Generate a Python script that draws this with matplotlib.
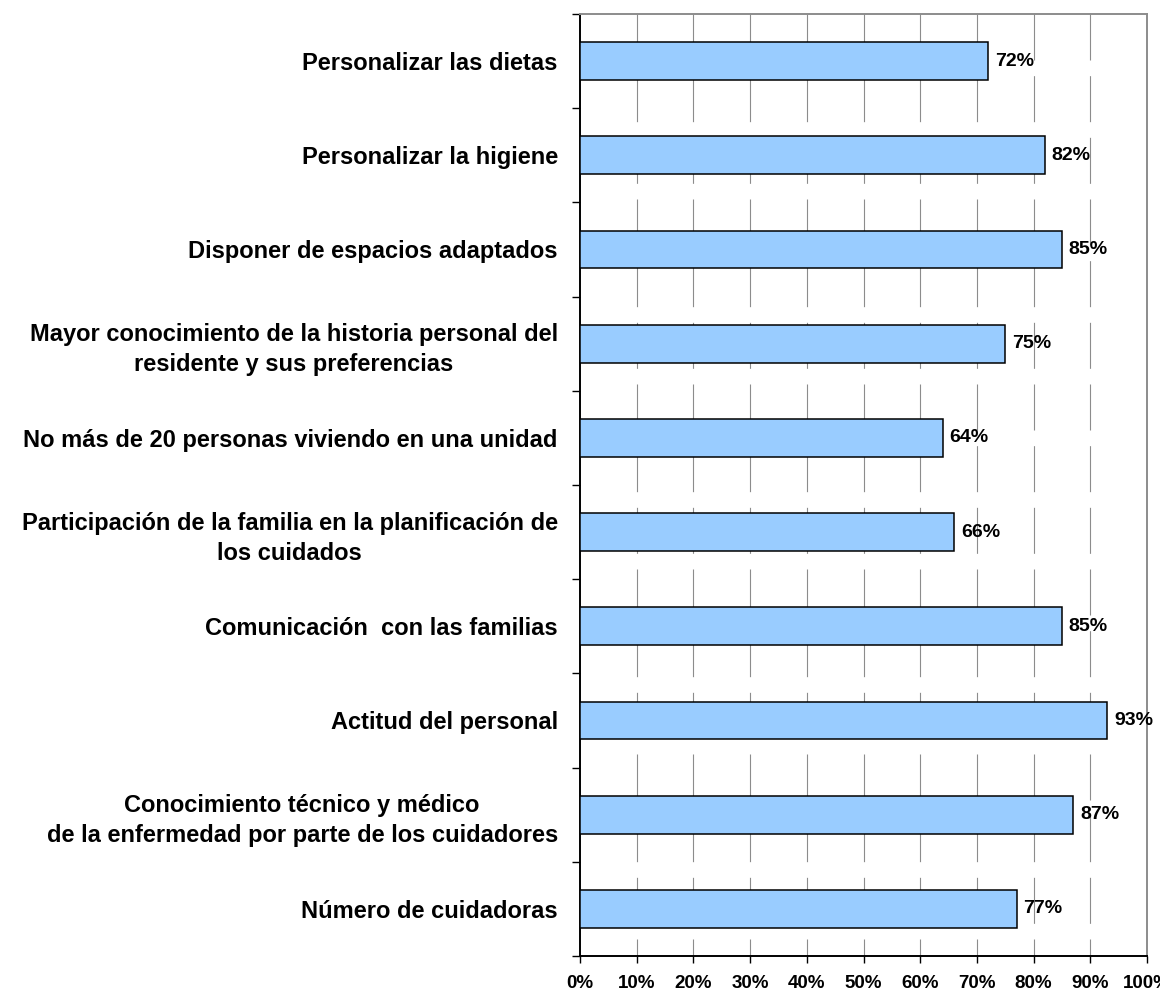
import matplotlib
matplotlib.use("Agg")
import matplotlib.pyplot as plt
import numpy as np

categories = [
    "Personalizar las dietas",
    "Personalizar la higiene",
    "Disponer de espacios adaptados",
    "Mayor conocimiento de la historia personal del\nresidente y sus preferencias",
    "No más de 20 personas viviendo en una unidad",
    "Participación de la familia en la planificación de\nlos cuidados",
    "Comunicación  con las familias",
    "Actitud del personal",
    "Conocimiento técnico y médico\nde la enfermedad por parte de los cuidadores",
    "Número de cuidadoras",
]
values = [72, 82, 85, 75, 64, 66, 85, 93, 87, 77]
xticks = [0, 10, 20, 30, 40, 50, 60, 70, 80, 90, 100]
xtick_labels = ["0%", "10%", "20%", "30%", "40%", "50%", "60%", "70%", "80%", "90%", "100%"]

plt.rcParams['font.family'] = ['Liberation Sans', 'DejaVu Sans']

fig = plt.figure(figsize=(11.6, 9.92), dpi=100)
ax = fig.add_axes([0.5, 0.0363, 0.4888, 0.9496])

n = len(categories)
pos = np.arange(n)
ax.barh(pos, values, height=0.4, color='#99CCFF', edgecolor='black', linewidth=1.1, zorder=3)

for p, v in zip(pos, values):
    ax.text(v + 1.2, p, f"{v}%", va='center', ha='left', fontsize=14,
            fontweight='bold', zorder=4)

for x in xticks[1:-1]:
    ax.axvline(x, ymin=1, ymax=0, color='#8c8c8c', lw=0.8,
               linestyle=(0, (41.4, 14.1)), zorder=1)

ax.set_xlim(0, 100)
ax.set_ylim(n - 0.5, -0.5)

ax.set_xticks(xticks)
ax.set_xticklabels(xtick_labels, fontsize=13.5, fontweight='bold')
ax.tick_params(axis='x', length=5, width=1, pad=9, color='black')

ax.set_yticks(pos)
ax.set_yticklabels(categories, fontsize=17, fontweight='bold')
ax.tick_params(axis='y', which='major', length=0, pad=16)
ax.set_yticks(np.arange(n + 1) - 0.5, minor=True)
ax.tick_params(axis='y', which='minor', length=6, width=1, color='black')
for lab in ax.get_yticklabels():
    lab.set_multialignment('center')
    lab.set_linespacing(1.4)

ax.spines['left'].set_color('black')
ax.spines['left'].set_linewidth(1.4)
ax.spines['bottom'].set_color('black')
ax.spines['bottom'].set_linewidth(1.4)
for s in ['top', 'right']:
    ax.spines[s].set_color('#8c8c8c')
    ax.spines[s].set_linewidth(1.4)

fig.savefig("out.png", dpi=100)
